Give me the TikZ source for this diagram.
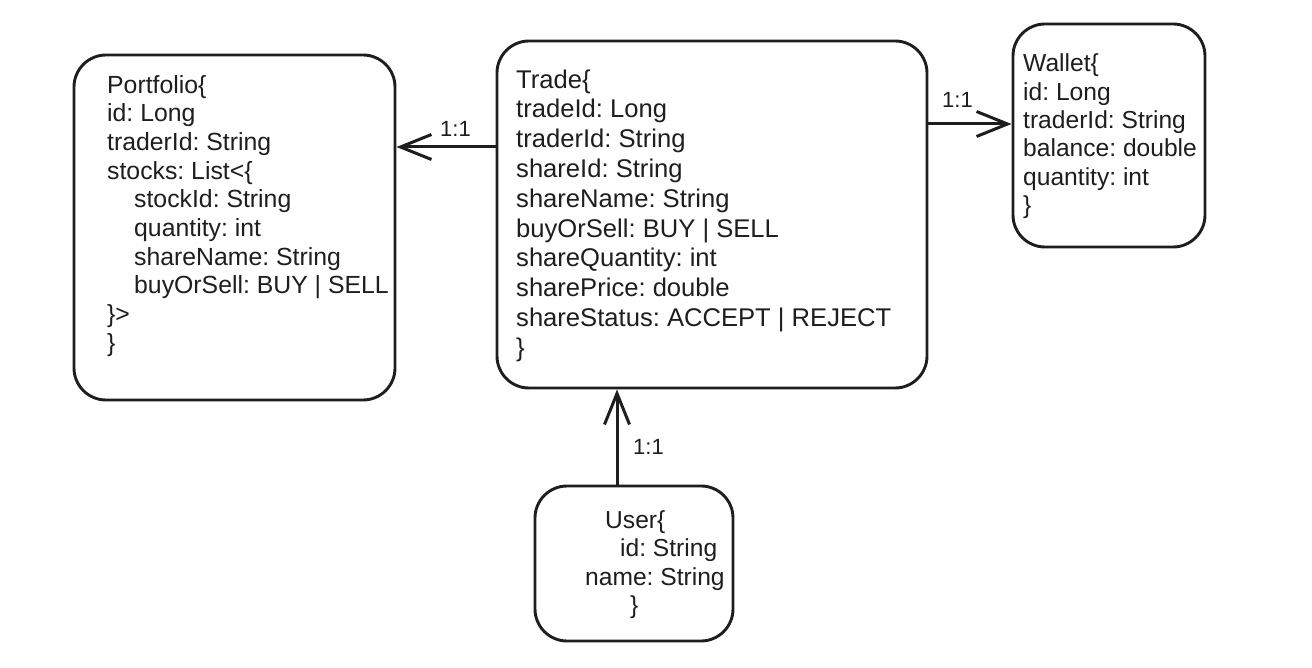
\documentclass[tikz,border=0pt]{standalone}
\usepackage{fontspec}
\setmainfont{Liberation Sans}
\usetikzlibrary{arrows.meta}
\definecolor{ink}{HTML}{1E1E1E}
\frenchspacing
\begin{document}
\frenchspacing
\begin{tikzpicture}[x=1pt,y=-1pt,
  box/.style={draw=ink, line width=2.9pt, rounded corners=32pt, inner sep=0pt},
  txt/.style={anchor=base west, align=left, inner sep=0pt, text=ink, font=\fontsize{24.8pt}{28.7pt}\selectfont},
  bigtxt/.style={txt, font=\fontsize{25.6pt}{29.8pt}\selectfont},
  lbl/.style={anchor=base west, inner sep=0pt, text=ink, font=\fontsize{22pt}{26pt}\selectfont},
  arr/.style={draw=ink, line width=3pt, -{Straight Barb[length=31pt,width=25pt]}}]
\useasboundingbox[fill=white] (0,0) rectangle (1312,668);

% boxes
\node[box, minimum width=321pt, minimum height=345pt] (portfolio) at (234.5,227.5) {};
\node[box, minimum width=430pt, minimum height=347pt] (trade) at (712,214.5) {};
\node[box, minimum width=192pt, minimum height=223pt] (wallet) at (1109,135.5) {};
\node[box, minimum width=198pt, minimum height=155pt] (user) at (634,563.5) {};

% texts (anchored at the baseline of their last line)
\node[txt] (ptext) at (107,351.3) {Portfolio\{\\id: Long\\traderId: String\\stocks: List<\{\\
\hspace*{27pt}stockId: String\\\hspace*{27pt}quantity: int\\\hspace*{27pt}shareName: String\\
\hspace*{27pt}buyOrSell: BUY | SELL\\\}>\\\}};
\node[bigtxt] (ttext) at (516,356.2) {Trade\{\\tradeId: Long\\traderId: String\\shareId: String\\shareName: String\\buyOrSell: BUY | SELL\\shareQuantity: int\\sharePrice: double\\shareStatus: ACCEPT | REJECT\\\}};
\node[txt, font=\fontsize{24.6pt}{28.3pt}\selectfont] (wtext) at (1023,213.5) {Wallet\{\\id: Long\\traderId: String\\balance: double\\quantity: int\\\}};
\node[txt, font=\fontsize{24.6pt}{28.5pt}\selectfont] (utext) at (585,613.5) {\hspace*{20pt}User\{\\\hspace*{35pt}id: String\\name: String\\\hspace*{45pt}\}};

% connectors
\coordinate (yl) at (0,147);
\coordinate (yr) at (0,124);
\coordinate (xb) at (617,0);
\draw[arr] (trade.west |- yl) -- (portfolio.east |- yl);
\draw[arr] (trade.east |- yr) -- (wallet.west |- yr);
\draw[arr] (user.north -| xb) -- (trade.south -| xb);

% labels
\node[lbl] (l1) at (440,137) {1:1};
\node[lbl] (l2) at (942,108) {1:1};
\node[lbl] (l3) at (633,454) {1:1};
\end{tikzpicture}
\end{document}
